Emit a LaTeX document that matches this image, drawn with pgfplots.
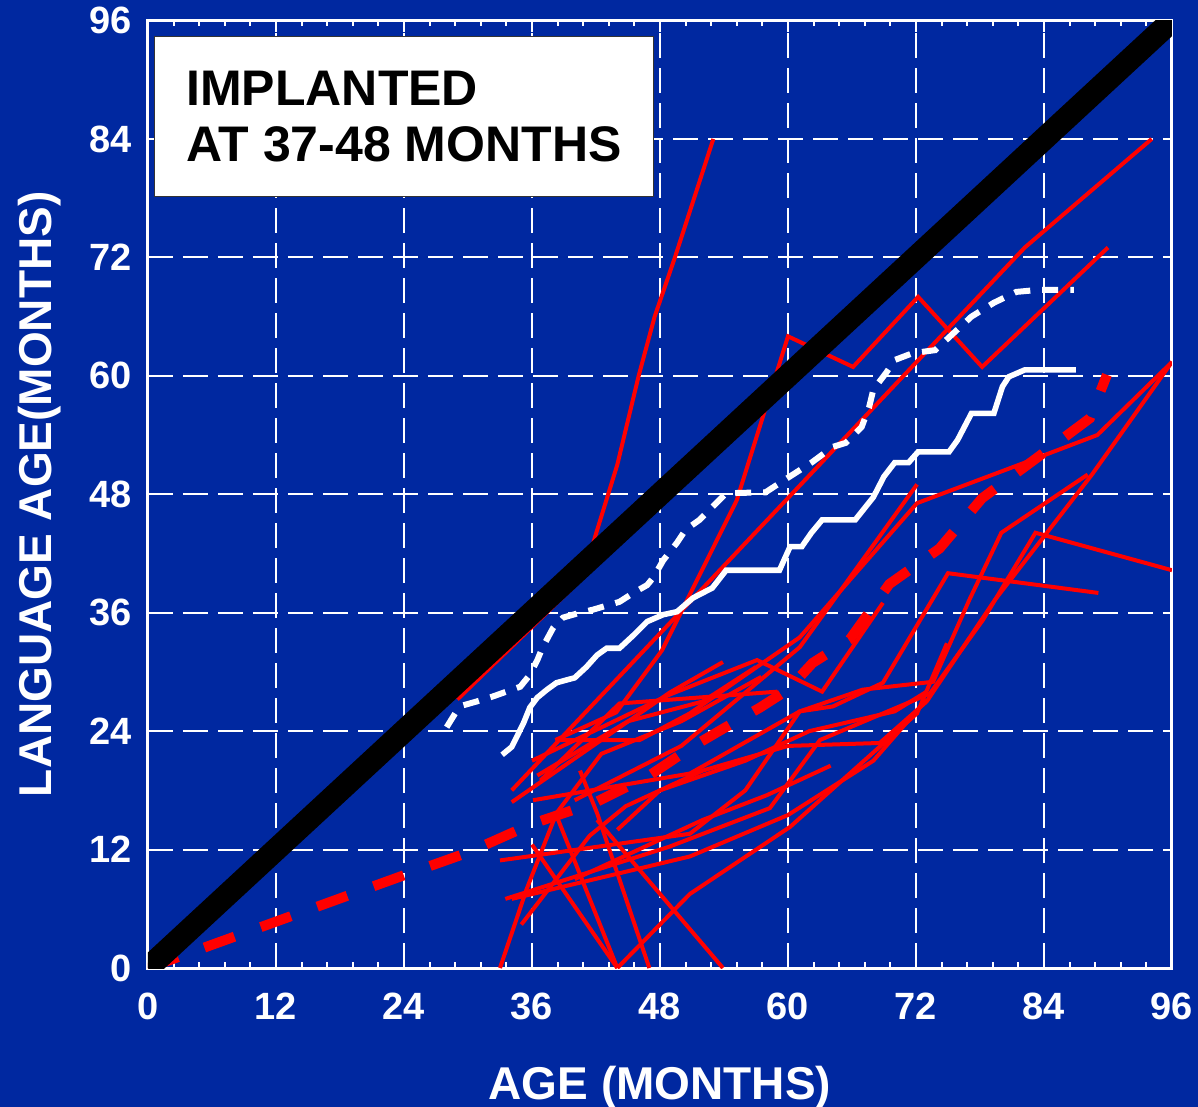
\documentclass[border=0pt]{standalone}
\usepackage{fontspec}
\setmainfont{Liberation Sans}
\usepackage{pgfplots}
\pgfplotsset{compat=1.18}
\definecolor{bgblue}{RGB}{0,40,160}
\begin{document}
\begin{tikzpicture}
\fill[bgblue] (-74pt,-69.5pt) rectangle (525pt,484pt);
\begin{axis}[
  at={(0,0)}, anchor=south west,
  scale only axis, width=512pt, height=473.75pt,
  xmin=0,xmax=96,ymin=0,ymax=96,
  xtick={0,12,...,96}, ytick={0,12,...,96},
  minor x tick num=4,
  tick align=inside,
  xtick pos=both, ytick pos=left,
  major tick length=6pt, minor tick length=3pt,
  every tick/.style={white, line width=1pt},
  axis line style={white, line width=1.5pt},
  grid=major,
  major grid style={white, line width=1pt, dash pattern=on 12.5pt off 5pt},
  tick label style={white, font=\bfseries\fontsize{19}{19}\selectfont},
  /pgf/number format/assume math mode=true,
  xticklabel style={yshift=-8.7pt},
  yticklabel style={xshift=-4.7pt},
  xlabel={AGE (MONTHS)}, ylabel={LANGUAGE AGE(MONTHS)},
  label style={white, font=\bfseries\fontsize{23}{23}\selectfont},
  xlabel style={at={([yshift=-65.5pt]axis description cs:0.5,0)}, anchor=base},
  ylabel style={at={([xshift=-48pt]axis description cs:0,0.5)}, anchor=base},
]
% individual children
\addplot[red, line width=2pt] coordinates {(29,27.2) (40.8,39.6) (42,44) (44,51) (46,60) (47.5,66) (49.4,72) (53,84)};
\addplot[red, line width=2pt] coordinates {(38.2,23.1) (43.9,25.9) (48.2,32.2) (55.2,47.4) (60,64) (66.1,60.9) (72.2,68) (78.2,60.9) (90,73)};
\addplot[red, line width=2pt] coordinates {(34.1,18) (82.2,73) (94.1,84)};
\addplot[red, line width=2pt] coordinates {(36.8,19) (44.2,26.8) (59,28)};
\addplot[red, line width=2pt] coordinates {(38.2,23.1) (46.1,23.1) (50.8,25.8) (61.1,33.5) (72.1,47.1) (81.7,51) (89,54) (96,61.4)};
\addplot[red, line width=2pt] coordinates {(44,0) (50.8,7.5) (60.2,14.3) (72.1,25.8) (74.9,32.9)};
\addplot[red, line width=2pt] coordinates {(33.5,7) (48.9,12.3) (58.3,16.2) (63,23.1) (73.3,27.8) (78.3,35.3) (83.2,44.1) (96,40.3)};
\addplot[red, line width=2pt] coordinates {(36,12.5) (44,0)};
\addplot[red, line width=2pt] coordinates {(38.2,15.7) (44,0)};
\addplot[red, line width=2pt] coordinates {(40.5,20) (42.1,15.7) (47,0)};
\addplot[red, line width=2pt] coordinates {(42.1,15) (53.9,0)};
\addplot[red, line width=2pt] coordinates {(33,0) (35.5,8) (38.3,15.7) (42.5,21.7) (50,25) (57.5,29.5)};
\addplot[red, line width=2pt] coordinates {(35,4.4) (41.4,13.4) (44.8,16.4) (52,20) (60,22.5) (68.6,22.8) (73,27) (79.4,37.3) (88.5,50) (96,61.4)};
\addplot[red, line width=2pt] coordinates {(34.1,16.8) (48.9,27.9) (53.9,31)};
\addplot[red, line width=2pt] coordinates {(36,21) (48.9,27.7) (57.1,31.2) (63.2,28) (68.9,37)};
\addplot[red, line width=2pt] coordinates {(36.1,17) (50.8,19.7) (61.1,26) (67,28.2) (73.6,29) (77,37.3) (80,44.1) (88.1,50)};
\addplot[red, line width=2pt] coordinates {(33,10.9) (50.8,13.6) (56,18) (61.1,26) (64.2,26.5) (68.9,28.9) (75,40) (89.1,38)};
\addplot[red, line width=2pt] coordinates {(34.1,7) (50.8,11.3) (60,15.5) (68,21) (73,27.2)};
\addplot[red, line width=2pt] coordinates {(40,17) (50,22.5) (61.1,32.5) (72.1,49)};
\addplot[red, line width=2pt] coordinates {(36.5,19.5) (45,25) (52,27) (57,30.5)};
\addplot[red, line width=2pt] coordinates {(44,14) (48,18) (56,21) (62,24) (70,26) (73,28)};
\addplot[red, line width=2pt] coordinates {(40,9) (46,12) (52,15) (58,17.5) (64,20.5)};
% mean and median curves
\addplot[white, line width=2.8pt] coordinates {(33.2,21.6) (34.1,22.4) (35.2,24.8) (35.8,26.4) (36.5,27.4) (37.4,28.2) (38.3,28.9) (39.3,29.2) (40.0,29.4) (41.1,30.5) (42.1,31.7) (43.0,32.4) (44.2,32.4) (45.5,33.7) (46.8,35.1) (48.3,35.8) (49.6,36.1) (51.1,37.5) (52.9,38.5) (54.2,40.3) (59.2,40.3) (60.2,42.7) (61.3,42.7) (62.2,44.1) (63.2,45.4) (66.3,45.4) (68.0,47.7) (69.0,49.8) (70.0,51.2) (71.3,51.2) (72.2,52.3) (75.1,52.3) (75.9,53.5) (77.2,56.2) (79.3,56.2) (80.1,58.9) (80.7,59.9) (82.2,60.6) (87.0,60.6)};
\addplot[white, line width=3pt, dash pattern=on 8pt off 6pt] coordinates {(28.0,24.4) (28.8,25.8) (29.5,26.6) (30.8,27.0) (32.3,27.5) (33.6,28.0) (34.9,28.5) (35.8,29.7) (36.5,31.2) (37.0,32.5) (38.0,34.5) (38.9,35.5) (40.5,36.0) (41.7,36.3) (44.2,37.1) (45.5,38.0) (46.8,38.8) (47.4,39.6) (48.3,41.3) (49.6,43.1) (50.4,44.4) (51.7,45.4) (54.2,48.1) (57.9,48.2) (59.6,49.4) (62.2,51.2) (64.2,52.8) (65.4,53.2) (66.9,54.8) (67.6,56.8) (68.0,58.6) (69.2,60.3) (70.0,61.6) (71.7,62.3) (73.8,62.6) (75.5,64.3) (77.2,66.0) (79.3,67.4) (81.4,68.5) (83.4,68.7) (86.8,68.7)};
\addplot[red, line width=5pt, dash pattern=on 16pt off 14pt] coordinates {(0,0) (12,4.7) (24,9.4) (30,11.7) (36,14.6) (42,16.8) (47,19.5) (51,22.4) (54,24.3) (57.4,26.4) (60,28.2) (62.3,30.9) (65.8,33.3) (69.5,38.9) (74.2,42.5) (78.2,47.6) (83.6,51.9) (88.3,55.7) (89.9,60.1)};
\addplot[black, line width=11.5pt] coordinates {(0,0) (96,96)};
% title box
\draw[black!80, line width=0.6pt, fill=white] (axis cs:0.6,78.2) rectangle (axis cs:47.4,94.4);
\node[anchor=base west, inner sep=0pt, font=\bfseries\fontsize{25}{25}\selectfont] at (axis cs:3.56,87.4) {IMPLANTED};
\node[anchor=base west, inner sep=0pt, font=\bfseries\fontsize{25}{25}\selectfont] at (axis cs:3.56,81.7) {AT 37-48 MONTHS};
\end{axis}
\pgfresetboundingbox
\path (-74pt,-69.5pt) rectangle (525pt,484pt);
\end{tikzpicture}
\end{document}
